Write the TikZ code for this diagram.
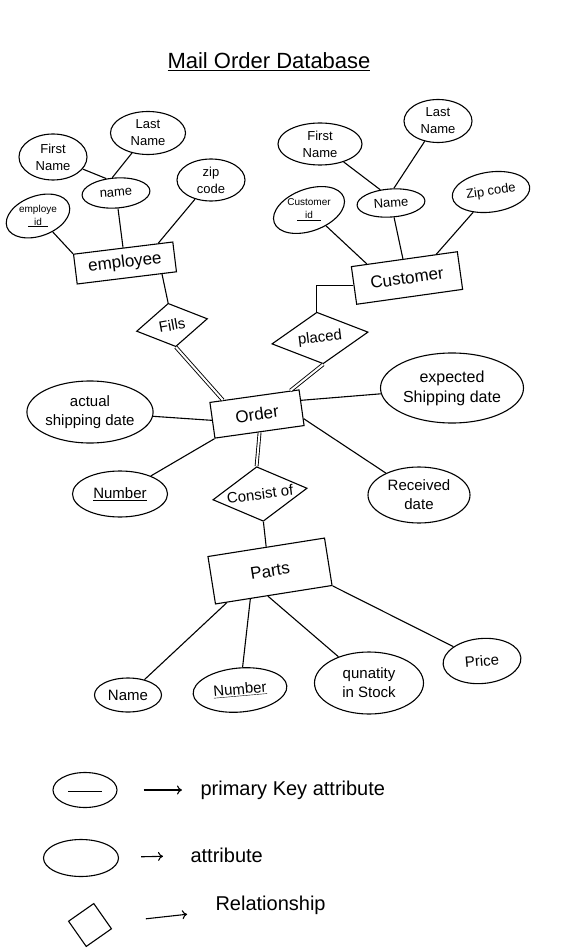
\documentclass[tikz,border=0pt]{standalone}
\usepackage{fontspec}
\setmainfont{Liberation Sans}
\usetikzlibrary{shapes.geometric,positioning,calc,arrows.meta}

\begin{document}
\begin{tikzpicture}[
    x=1pt, y=-1pt,
    line width=1.1pt,
    entity/.style={draw, rectangle, inner sep=2pt, font=\fontsize{17}{18}\selectfont},
    attr/.style={draw, ellipse, inner sep=0pt, align=center, font=\fontsize{15}{19}\selectfont},
    smallattr/.style={attr, font=\fontsize{13}{17}\selectfont},
    idtext/.style={inner sep=0pt, align=center, font=\fontsize{10}{13}\selectfont},
    rel/.style={draw, diamond, inner sep=0pt, aspect=1.6, font=\fontsize{15}{16}\selectfont},
    total/.style={draw, double, double distance=2pt, line width=0.9pt},
    legtext/.style={inner sep=0pt, anchor=west, font=\fontsize{20}{22}\selectfont},
    legarrow/.style={draw, -{To[length=5pt,width=9pt]}},
  ]
    \useasboundingbox (0,0) rectangle (560,949);

    % title
    \node[font=\fontsize{22}{24}\selectfont] (title) at (269,62) {\underline{Mail Order Database}};

    % employee and its attributes
    \node[entity, rotate=7, minimum width=100pt, minimum height=30pt] (emp) at (125,263) {employee};
    \node[smallattr, minimum width=68pt, minimum height=46pt] (empfirst) at (53,157) {First\\Name};
    \node[smallattr, minimum width=75pt, minimum height=43pt] (emplast) at (148,133) {Last\\Name};
    \node[smallattr, rotate=4, minimum width=68pt, minimum height=30pt] (empname) at (116,193) {name};
    \node[smallattr, minimum width=68pt, minimum height=42pt] (empzip) at (211,180) {zip\\code};
    \node[attr, rotate=20, minimum width=66pt, minimum height=40pt] (empid) at (38,216) {};
    \node[idtext] (empidtext) at (empid) {employe\\\underline{\hspace{6pt}id\hspace{6pt}}};

    \draw (empfirst) -- (empname.120);
    \draw (emplast) -- (empname.100);
    \draw (empname) -- (emp);
    \draw (empzip) -- ($(emp.north west)!0.85!(emp.north east)$);
    \draw (empid) -- (emp.north west);

    % customer and its attributes
    \node[entity, rotate=8, minimum width=107pt, minimum height=38pt] (cust) at (407,278) {Customer};
    \node[smallattr, minimum width=84pt, minimum height=42pt] (custfirst) at (320,144) {First\\Name};
    \node[smallattr, minimum width=68pt, minimum height=43pt] (custlast) at (438,121) {Last\\Name};
    \node[smallattr, rotate=4, minimum width=68pt, minimum height=28pt] (custname) at (391,203) {Name};
    \node[smallattr, rotate=8, minimum width=78pt, minimum height=40pt] (custzip) at (491,192) {Zip code};
    \node[attr, rotate=20, minimum width=74pt, minimum height=42pt] (custid) at (309,210) {};
    \node[idtext] (custidtext) at (custid) {Customer\\\underline{\hspace{8pt}id\hspace{8pt}}};

    \draw (custfirst) -- (custname.125);
    \draw (custlast) -- (custname.75);
    \draw (custname) -- (cust);
    \draw (custzip) -- ($(cust.north west)!0.8!(cust.north east)$);
    \draw (custid) -- ($(cust.north west)!0.15!(cust.north east)$);

    % relationships
    \node[rel, rotate=10, minimum width=72pt, minimum height=44pt] (fills) at (172,325) {Fills};
    \node[rel, rotate=7, minimum width=97pt, minimum height=52pt] (placed) at (320,338) {placed};
    \node[rel, rotate=7, minimum width=95pt, minimum height=55pt] (consist) at (260,494) {Consist of};

    % order and its attributes
    \node[entity, rotate=8, minimum width=90pt, minimum height=36pt] (order) at (257,414) {Order};
    \node[attr, minimum width=120pt, minimum height=62pt] (actship) at (90,412) {actual\\shipping date};
    \node[attr, minimum width=143pt, minimum height=70pt, font=\fontsize{16}{20}\selectfont] (expship) at (452,388) {expected\\Shipping date};
    \node[attr, minimum width=95pt, minimum height=46pt] (ordnum) at (120,494) {\underline{Number}};
    \node[attr, minimum width=102pt, minimum height=56pt] (recv) at (419,495) {Received\\date};

    \draw (actship) -- (order.west);
    \draw (expship) -- ($(order.north east)!0.3!(order.south east)$);
    \draw (ordnum) -- (order.south west);
    \draw (recv) -- ($(order.north east)!0.8!(order.south east)$);

    % parts and its attributes
    \node[entity, rotate=9, minimum width=118pt, minimum height=48pt] (parts) at (270,571) {Parts};
    \node[attr, minimum width=67pt, minimum height=34pt] (partname) at (128,695) {Name};
    \node[attr, rotate=5, minimum width=94pt, minimum height=44pt] (partnum) at (240,690) {\underline{Number}};
    \node[attr, minimum width=109pt, minimum height=62pt] (partqty) at (369,683) {qunatity\\in Stock};
    \node[attr, rotate=5, minimum width=78pt, minimum height=45pt] (partprice) at (482,661) {Price};

    \draw ($(parts.south west)!0.1!(parts.south east)$) -- (partname);
    \draw ($(parts.south west)!0.3!(parts.south east)$) -- (partnum);
    \draw ($(parts.south west)!0.45!(parts.south east)$) -- (partqty);
    \draw (parts.south east) -- (partprice);

    % links between entities and relationships
    \draw ($(emp.south west)!0.85!(emp.south east)$) -- (fills.north);
    \draw (cust.west) -| (placed.north);
    \draw[total] (fills.south) -- ($(order.north west)!0.15!(order.north east)$);
    \draw[total] (placed.south) -- ($(order.north west)!0.9!(order.north east)$);
    \draw[total] (order.south) -- (consist.north);
    \draw (consist.south) -- (parts.north);

    % legend
    \node[attr, minimum width=64pt, minimum height=35pt] (keyleg) at (85,790) {\raisebox{-4pt}{\rule{34pt}{1pt}}};
    \node[legtext] (keytext) at (200,790) {primary Key attribute};
    \draw[legarrow, shorten <=26pt, shorten >=18pt] (keyleg) -- (keytext);

    \node[attr, minimum width=75pt, minimum height=37pt] (attrleg) at (81,858) {};
    \node[legtext] (attrtext) at (190,855) {attribute};
    \draw[legarrow, shorten <=22pt, shorten >=27pt] (attrleg) -- (attrtext);

    \node[rel, aspect=1, rotate=-10, minimum width=44pt, minimum height=44pt] (relleg) at (90,925) {};
    \node[legtext] (reltext) at (215,905) {Relationship};
    \draw[legarrow, shorten <=38pt, shorten >=28pt] (relleg) -- (reltext);
  \end{tikzpicture}
\end{document}
